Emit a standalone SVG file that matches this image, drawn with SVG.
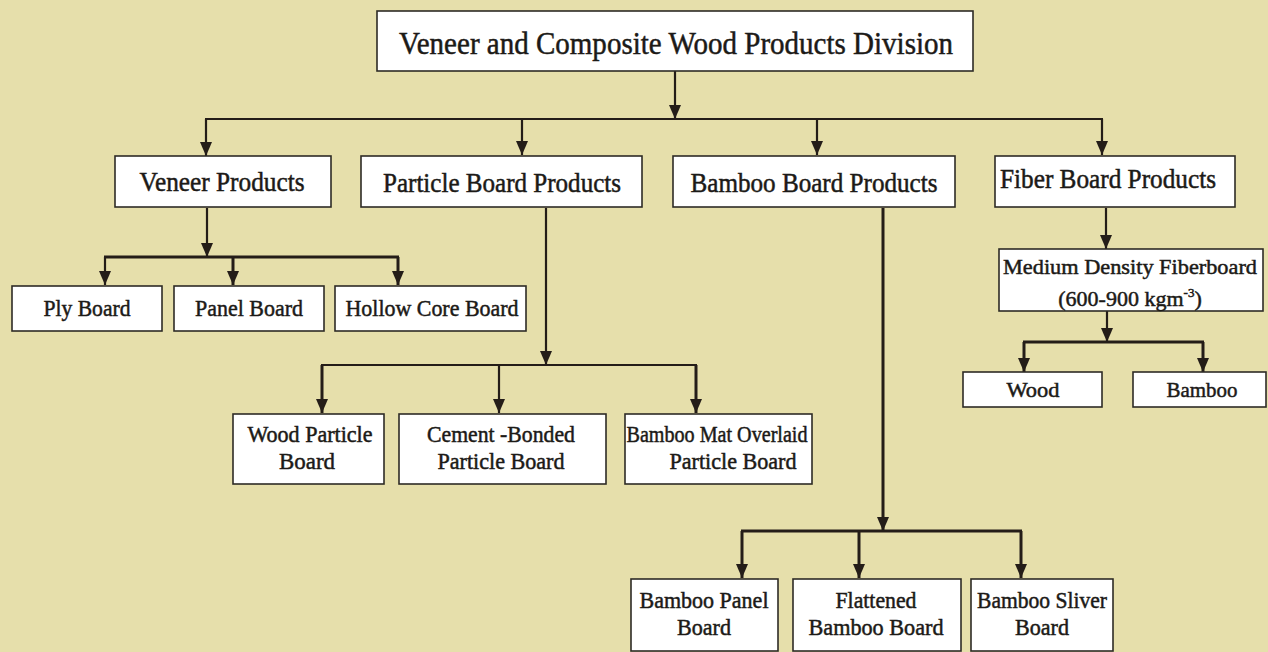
<svg xmlns="http://www.w3.org/2000/svg" width="1268" height="652" viewBox="0 0 1268 652">
<defs>
<style>
.bg{fill:#e6dfab}
.box{fill:#ffffff;stroke:#2e2b26;stroke-width:1.6}
.t{font-family:'Liberation Serif','Times New Roman',Times,serif;fill:#1c1a17;text-anchor:middle;stroke:#1c1a17;stroke-width:0.5}
.c{stroke:#241d18;stroke-width:2.2;fill:none}
.h{stroke:#241d18;stroke-width:3;fill:none}
</style>
<marker id="ah" viewBox="0 0 14 12" refX="14" refY="6" markerWidth="14" markerHeight="12" markerUnits="userSpaceOnUse" orient="auto">
<path d="M0,0 L14,6 L0,12 z" fill="#241d18"/>
</marker>
</defs>
<rect class="bg" x="0" y="0" width="1268" height="652"/>

<g id="connectors">
<line class="c" x1="675" y1="71" x2="675" y2="119" marker-end="url(#ah)"/>
<line class="c" x1="205" y1="119" x2="1103" y2="119"/>
<line class="c" x1="206" y1="119" x2="206" y2="156" marker-end="url(#ah)"/>
<line class="c" x1="522" y1="119" x2="522" y2="155" marker-end="url(#ah)"/>
<line class="c" x1="817" y1="119" x2="817" y2="155" marker-end="url(#ah)"/>
<line class="c" x1="1102" y1="119" x2="1102" y2="155" marker-end="url(#ah)"/>

<line class="c" x1="207" y1="208" x2="207" y2="257" marker-end="url(#ah)"/>
<line class="h" x1="104" y1="257" x2="399" y2="257"/>
<line class="c" x1="105" y1="257" x2="105" y2="285" marker-end="url(#ah)"/>
<line class="h" x1="233" y1="257" x2="233" y2="285" marker-end="url(#ah)"/>
<line class="h" x1="398" y1="257" x2="398" y2="285" marker-end="url(#ah)"/>

<line class="c" x1="546" y1="208" x2="546" y2="365" marker-end="url(#ah)"/>
<line class="c" x1="321" y1="365" x2="697" y2="365"/>
<line class="h" x1="322" y1="365" x2="322" y2="413" marker-end="url(#ah)"/>
<line class="c" x1="499" y1="365" x2="499" y2="413" marker-end="url(#ah)"/>
<line class="h" x1="696" y1="365" x2="696" y2="413" marker-end="url(#ah)"/>

<line class="h" x1="883" y1="208" x2="883" y2="531" marker-end="url(#ah)"/>
<line class="h" x1="741" y1="531" x2="1022" y2="531"/>
<line class="h" x1="742" y1="531" x2="742" y2="578" marker-end="url(#ah)"/>
<line class="h" x1="859" y1="531" x2="859" y2="578" marker-end="url(#ah)"/>
<line class="h" x1="1021" y1="531" x2="1021" y2="578" marker-end="url(#ah)"/>

<line class="c" x1="1106" y1="208" x2="1106" y2="249" marker-end="url(#ah)"/>
<line class="c" x1="1107" y1="311" x2="1107" y2="342" marker-end="url(#ah)"/>
<line class="h" x1="1023" y1="342" x2="1204" y2="342"/>
<line class="h" x1="1024" y1="342" x2="1024" y2="372" marker-end="url(#ah)"/>
<line class="h" x1="1203" y1="342" x2="1203" y2="372" marker-end="url(#ah)"/>
</g>

<g id="n-root">
<rect class="box" x="377" y="11" width="596" height="60"/>
<text class="t" x="676" y="54" font-size="32" textLength="554" lengthAdjust="spacingAndGlyphs">Veneer and Composite Wood Products Division</text>
</g>

<g id="n-veneer">
<rect class="box" x="115" y="156" width="216" height="51"/>
<text class="t" x="222" y="191" font-size="27" textLength="165" lengthAdjust="spacingAndGlyphs">Veneer Products</text>
</g>
<g id="n-particle">
<rect class="box" x="361" y="156" width="281" height="51"/>
<text class="t" x="502" y="192" font-size="27" textLength="238" lengthAdjust="spacingAndGlyphs">Particle Board Products</text>
</g>
<g id="n-bamboo">
<rect class="box" x="673" y="156" width="282" height="51"/>
<text class="t" x="814" y="192" font-size="27" textLength="247" lengthAdjust="spacingAndGlyphs">Bamboo Board Products</text>
</g>
<g id="n-fiber">
<rect class="box" x="995" y="156" width="240" height="51"/>
<text class="t" x="1108" y="188" font-size="27" textLength="216" lengthAdjust="spacingAndGlyphs">Fiber Board Products</text>
</g>

<g id="n-ply">
<rect class="box" x="12" y="286" width="150" height="45"/>
<text class="t" x="87" y="316" font-size="24" textLength="87" lengthAdjust="spacingAndGlyphs">Ply Board</text>
</g>
<g id="n-panel">
<rect class="box" x="174" y="286" width="150" height="45"/>
<text class="t" x="249" y="316" font-size="24" textLength="108" lengthAdjust="spacingAndGlyphs">Panel Board</text>
</g>
<g id="n-hollow">
<rect class="box" x="335" y="286" width="191" height="45"/>
<text class="t" x="432" y="316" font-size="24" textLength="173" lengthAdjust="spacingAndGlyphs">Hollow Core Board</text>
</g>

<g id="n-woodparticle">
<rect class="box" x="233" y="414" width="151" height="70"/>
<text class="t" x="310" y="442" font-size="23" textLength="125" lengthAdjust="spacingAndGlyphs">Wood Particle</text>
<text class="t" x="307" y="469" font-size="23" textLength="56" lengthAdjust="spacingAndGlyphs">Board</text>
</g>
<g id="n-cement">
<rect class="box" x="399" y="414" width="207" height="70"/>
<text class="t" x="501" y="442" font-size="23" textLength="148" lengthAdjust="spacingAndGlyphs">Cement -Bonded</text>
<text class="t" x="501" y="469" font-size="23" textLength="127" lengthAdjust="spacingAndGlyphs">Particle Board</text>
</g>
<g id="n-bamboomat">
<rect class="box" x="625" y="414" width="187" height="70"/>
<text class="t" x="717" y="442" font-size="23" textLength="181" lengthAdjust="spacingAndGlyphs">Bamboo Mat Overlaid</text>
<text class="t" x="733" y="469" font-size="23" textLength="127" lengthAdjust="spacingAndGlyphs">Particle Board</text>
</g>

<g id="n-bamboopanel">
<rect class="box" x="631" y="579" width="147" height="72"/>
<text class="t" x="704" y="608" font-size="23" textLength="129" lengthAdjust="spacingAndGlyphs">Bamboo Panel</text>
<text class="t" x="704" y="635" font-size="23" textLength="54" lengthAdjust="spacingAndGlyphs">Board</text>
</g>
<g id="n-flattened">
<rect class="box" x="793" y="579" width="168" height="72"/>
<text class="t" x="876" y="608" font-size="23" textLength="81" lengthAdjust="spacingAndGlyphs">Flattened</text>
<text class="t" x="876" y="635" font-size="23" textLength="135" lengthAdjust="spacingAndGlyphs">Bamboo Board</text>
</g>
<g id="n-sliver">
<rect class="box" x="971" y="579" width="142" height="72"/>
<text class="t" x="1042" y="608" font-size="23" textLength="130" lengthAdjust="spacingAndGlyphs">Bamboo Sliver</text>
<text class="t" x="1042" y="635" font-size="23" textLength="54" lengthAdjust="spacingAndGlyphs">Board</text>
</g>

<g id="n-mdf">
<rect class="box" x="999" y="249" width="264" height="62"/>
<text class="t" x="1130" y="274" font-size="22" textLength="254" lengthAdjust="spacingAndGlyphs">Medium Density  Fiberboard</text>
<text class="t" x="1130" y="306" font-size="22">(600-900 kgm<tspan font-size="13" dy="-9">-3</tspan><tspan dy="9">)</tspan></text>
</g>
<g id="n-wood">
<rect class="box" x="963" y="372" width="139" height="35"/>
<text class="t" x="1033" y="397" font-size="22" textLength="53" lengthAdjust="spacingAndGlyphs">Wood</text>
</g>
<g id="n-bamboo2">
<rect class="box" x="1133" y="372" width="133" height="35"/>
<text class="t" x="1202" y="397" font-size="22" textLength="71" lengthAdjust="spacingAndGlyphs">Bamboo</text>
</g>
</svg>
